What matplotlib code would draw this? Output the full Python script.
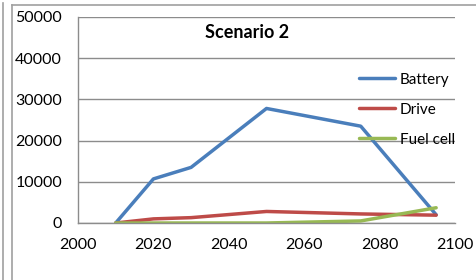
import matplotlib
matplotlib.use("Agg")
import matplotlib.pyplot as plt
from matplotlib.lines import Line2D

# Werte
years = [2010, 2020, 2030, 2050, 2075, 2095]
battery = [0, 10700, 13500, 27800, 23500, 2000]
drive = [0, 1000, 1300, 2800, 2200, 1900]
fuel_cell = [0, 0, 0, 0, 500, 3700]

x_ticks = [2000, 2020, 2040, 2060, 2080, 2100]
y_ticks = [0, 10000, 20000, 30000, 40000, 50000]

plt.rcParams['font.family'] = ['Lato', 'DejaVu Sans']

W, H = 477, 280
fig = plt.figure(figsize=(W / 100, H / 100), dpi=100)

# Rahmen
fig.add_artist(Line2D([2.5 / W, 2.5 / W], [0, 1 - 3 / H], color="#a0a0a0", lw=1.2, transform=fig.transFigure))
fig.add_artist(Line2D([12.5 / W, 12.5 / W], [0, 1 - 5 / H], color="#a0a0a0", lw=1.2, transform=fig.transFigure))
fig.add_artist(Line2D([12.5 / W, 1], [1 - 5 / H, 1 - 5 / H], color="#a0a0a0", lw=1.2, transform=fig.transFigure))

left, right, top, bottom = 78, 455, 17, 223
ax = fig.add_axes([left / W, 1 - bottom / H, (right - left) / W, (bottom - top) / H])

ax.plot(years, battery, color="#4a7ebb", lw=2.5, label="Battery", solid_capstyle="round")
ax.plot(years, drive, color="#be4b48", lw=2.5, label="Drive", solid_capstyle="round")
ax.plot(years, fuel_cell, color="#98b954", lw=2.5, label="Fuel cell", solid_capstyle="round")

ax.set_xlim(2000, 2100)
ax.set_ylim(0, 50000)
ax.set_xticks(x_ticks)
ax.set_yticks(y_ticks)
ax.tick_params(length=0, labelsize=11.5, colors="black")
ax.tick_params(axis="y", pad=11.5)
ax.tick_params(axis="x", pad=11)
ax.grid(axis="y", color="#8c8c8c", lw=1)
ax.set_axisbelow(True)
for s in ["top", "right"]:
    ax.spines[s].set_visible(False)
for s in ["left", "bottom"]:
    ax.spines[s].set_color("#8c8c8c")
    ax.spines[s].set_linewidth(1)

fig.text(247 / W, 1 - 33 / H, "Scenario 2", ha="center", va="center", fontsize=13, fontweight="bold")

ax.legend(loc="upper left", bbox_to_anchor=(351 / W, 1 - 65 / H), bbox_transform=fig.transFigure,
          frameon=False, fontsize=11, handlelength=2.4, handletextpad=0.3, labelspacing=1.05,
          borderpad=0)

fig.savefig("out.png", dpi=100)
